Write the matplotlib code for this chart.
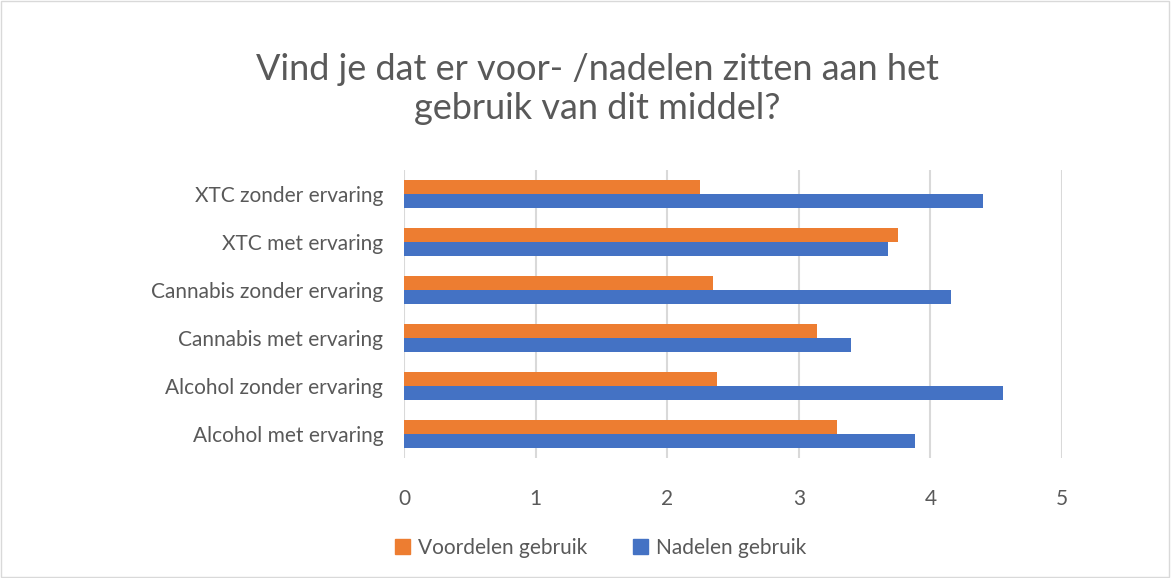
import numpy as np
import matplotlib
matplotlib.use("Agg")
from matplotlib import pyplot as plt
from matplotlib.patches import Rectangle, Patch

plt.rcParams['font.family'] = ['Lato', 'DejaVu Sans']

#
# Data (top to bottom as shown)
#
categories = ["XTC zonder ervaring", "XTC met ervaring", "Cannabis zonder ervaring",
              "Cannabis met ervaring", "Alcohol zonder ervaring", "Alcohol met ervaring"]
voordelen = [2.25, 3.75, 2.35, 3.14, 2.38, 3.29]
nadelen = [4.40, 3.68, 4.16, 3.40, 4.55, 3.88]

orange = "#ED7D31"
blue = "#4472C4"
grey = "#595959"

fig = plt.figure(figsize=(11.71, 5.78), dpi=100)
ax = fig.add_axes([404/1171, 120/578, (1062-404)/1171, (458-170)/578])

y = np.arange(len(categories))
h = 0.29
ax.barh(y - h/2, voordelen, height=h, color=orange, label="Voordelen gebruik", zorder=3)
ax.barh(y + h/2, nadelen, height=h, color=blue, label="Nadelen gebruik", zorder=3)

ax.set_xlim(0, 5)
ax.set_ylim(len(categories) - 0.5, -0.5)
ax.set_xticks(range(6))
ax.set_yticks(y)
ax.set_yticklabels(categories)
ax.tick_params(axis='both', length=0, colors=grey, labelsize=15)
ax.tick_params(axis='x', pad=22)
ax.tick_params(axis='y', pad=15)
ax.grid(axis='x', color="#d9d9d9", linewidth=1.5, zorder=0)
for s in ax.spines.values():
    s.set_visible(False)

fig.text(0.51, 0.846, "Vind je dat er voor- /nadelen zitten aan het\ngebruik van dit middel?",
         ha='center', va='center', fontsize=26, color=grey, linespacing=1.2)

handles = [Patch(color=orange), Patch(color=blue)]
fig.legend(handles, ["Voordelen gebruik", "Nadelen gebruik"], loc='center',
           bbox_to_anchor=(0.513, 0.052), ncol=2, frameon=False, fontsize=15,
           handlelength=0.7, handleheight=0.7, handletextpad=0.4, columnspacing=2.2,
           labelcolor=grey)

fig.add_artist(Rectangle((0.001, 0.001), 0.997, 0.997, transform=fig.transFigure,
                         fill=False, edgecolor="#d9d9d9", linewidth=1))

fig.savefig("out.png", dpi=100)
